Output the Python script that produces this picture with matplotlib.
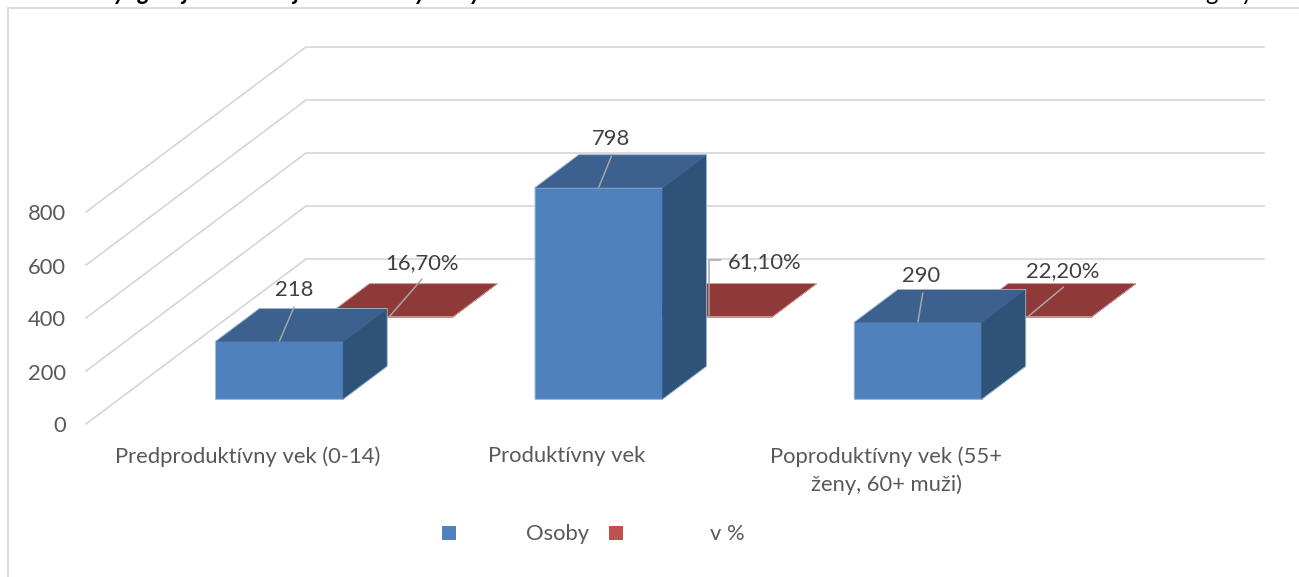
#!/usr/bin/env python3
import matplotlib
matplotlib.use("Agg")
import matplotlib.pyplot as plt
from matplotlib.patches import Polygon, Rectangle

plt.rcParams['font.family'] = ['Lato', 'DejaVu Sans']

categories = ["Predproduktívny vek (0-14)", "Produktívny vek", "Poproduktívny vek (55+\nženy, 60+ muži)"]
osoby = [218, 798, 290]
podiel = [0.167, 0.611, 0.222]
osoby_labels = ["218", "798", "290"]
podiel_labels = ["16,70%", "61,10%", "22,20%"]
y_ticks = [0, 200, 400, 600, 800]
legend_names = ["Osoby", "v %"]

# only the descenders of the heading above the chart survive the crop
heading_glyphs = [("y", 113, True), ("g", 138, True), ("j", 182, True), ("j", 293, True),
                  ("y", 414, True), ("y", 469, True), ("g", 1205, False), ("y", 1241, False)]

# projection of the fake 3D box, all in pixels
X0, Y0 = 86, 424
CAT_W = 319.3
PX_PER_UNIT = 212 / 800
DEPTH_X, DEPTH_Y = 220, 165
RIGHT_END = 1264
BAR_START, BAR_W = 0.302, 0.40
ROWS = {"osoby": (0.15, 0.35), "podiel": (0.65, 0.85)}

GRID = '#D9D9D9'
TEXT = '#404040'
TICK = '#595959'
LABEL_SIZE = 15.8


def project(cat, depth, value):
    """cat in category units, depth 0..1 front to back, value in chart units."""
    x = X0 + cat * CAT_W + depth * DEPTH_X
    y = Y0 - value * PX_PER_UNIT - depth * DEPTH_Y
    return x, y


def draw_box(ax, idx, value, row, front, top, side, edge):
    d0, d1 = ROWS[row]
    left, right = idx + BAR_START, idx + BAR_START + BAR_W
    faces = [
        ([(left, d0, 0), (right, d0, 0), (right, d0, value), (left, d0, value)], front),
        ([(right, d0, 0), (right, d1, 0), (right, d1, value), (right, d0, value)], side),
        ([(left, d0, value), (right, d0, value), (right, d1, value), (left, d1, value)], top),
    ]
    for corners, color in faces:
        ax.add_patch(Polygon([project(*c) for c in corners], closed=True, facecolor=color,
                             edgecolor=color, linewidth=0.4, zorder=2))
    # thin light rim round the whole box
    rim = [(left, d0, 0), (right, d0, 0), (right, d1, 0), (right, d1, value), (left, d1, value), (left, d0, value)]
    ax.add_patch(Polygon([project(*c) for c in rim], closed=True, facecolor='none',
                         edgecolor=edge, linewidth=0.5, zorder=2))


def draw_label(ax, idx, value, row, text, end, pos, elbow=False):
    # end and pos are offsets in pixels from the middle of the front top edge
    d0 = ROWS[row][0]
    ax_x, ax_y = project(idx + BAR_START + BAR_W / 2, d0, value)
    if elbow:
        xs = [ax_x, ax_x, ax_x + end[0]]
        ys = [ax_y, ax_y + end[1], ax_y + end[1]]
    else:
        xs = [ax_x, ax_x + end[0]]
        ys = [ax_y, ax_y + end[1]]
    ax.plot(xs, ys, color='#A6A6A6', linewidth=1.1, solid_capstyle='butt', zorder=5)
    ax.text(ax_x + pos[0], ax_y + pos[1], text, color=TEXT, fontsize=LABEL_SIZE,
            ha='center', va='center', zorder=6)


fig = plt.figure(figsize=(12.99, 5.77), dpi=100)
ax = fig.add_axes([0, 0, 1, 1])
ax.set_xlim(0, 1299)
ax.set_ylim(577, 0)
ax.axis('off')

# chart frame, the right and bottom edges are cropped away
ax.plot([8, 8, 1299], [577, 8, 8], color=GRID, linewidth=1.3, solid_joinstyle='miter', zorder=1)

for glyph, gx, bold in heading_glyphs:
    ax.text(gx, 0, glyph, fontsize=17, color='black', ha='left', va='baseline',
            fontweight='bold' if bold else 'normal', fontstyle='italic' if bold else 'normal')

# gridlines: side wall then back wall
for tick in y_ticks:
    fx, fy = project(0, 0, tick)
    bx, by = project(0, 1, tick)
    ax.plot([fx, bx, RIGHT_END], [fy, by, by], color=GRID, linewidth=1.3, solid_joinstyle='miter', zorder=1)
    ax.text(66, fy + 2.5, str(tick), color=TICK, fontsize=LABEL_SIZE, ha='right', va='center')

for i, val in enumerate(podiel):
    draw_box(ax, i, val, "podiel", '#8F3A39', '#8F3A39', '#8F3A39', '#DDB5B4')
for i, val in enumerate(osoby):
    draw_box(ax, i, val, "osoby", '#4F81BD', '#3C618E', '#2F5278', '#B9CDE5')

osoby_layout = [((15, -35), (15, -51)), ((13, -32), (12, -49)), ((5, -30), (3, -46))]
podiel_layout = [((33, -38), (33, -54)), ((12, -57), (56, -54)), ((36, -30), (35, -46))]

for i, val in enumerate(osoby):
    draw_label(ax, i, val, "osoby", osoby_labels[i], *osoby_layout[i])
for i, val in enumerate(podiel):
    draw_label(ax, i, val, "podiel", podiel_labels[i], *podiel_layout[i], elbow=(i == 1))

for i, cat in enumerate(categories):
    x, _ = project(i + 0.5, 0, 0)
    ax.text(x + 2, 446, cat, color=TICK, fontsize=LABEL_SIZE, ha='center', va='top', linespacing=1.5)

# legend keys and names sit apart like in the source, so placed by hand
for name, color, key_x, text_x in zip(legend_names, ['#4F81BD', '#C0504D'], [442, 609.5], [526, 710]):
    ax.add_patch(Rectangle((key_x, 526), 14, 14, facecolor=color, edgecolor='none'))
    ax.text(text_x, 534, name, color=TICK, fontsize=LABEL_SIZE, ha='left', va='center')

plt.savefig("out.png", dpi=100)
